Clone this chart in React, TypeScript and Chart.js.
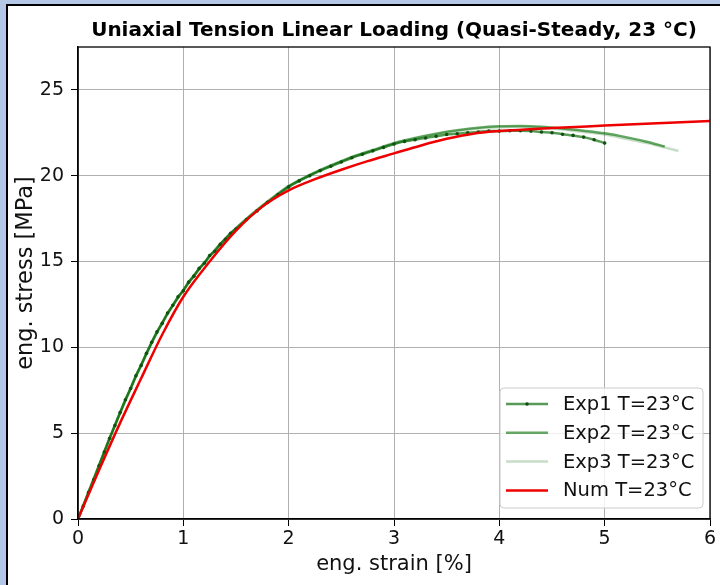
import React, { useEffect, useRef } from "react";
import { Chart, registerables } from "chart.js";

Chart.register(...registerables);

const TITLE = "Uniaxial Tension Linear Loading (Quasi-Steady, 23 °C)";
const X_LABEL = "eng. strain [%]";
const Y_LABEL = "eng. stress [MPa]";
const X_TICKS = [0, 1, 2, 3, 4, 5, 6];
const Y_TICKS = [0, 5, 10, 15, 20, 25];
const LABELS = ["Exp1 T=23°C", "Exp2 T=23°C", "Exp3 T=23°C", "Num T=23°C"];

const EXP1_STRAIN = [0, 0.05, 0.1, 0.15, 0.2, 0.25, 0.3, 0.35, 0.4, 0.45, 0.5, 0.55, 0.6, 0.65, 0.7, 0.75, 0.8, 0.85, 0.9, 0.95, 1.0, 1.05, 1.1, 1.15, 1.2, 1.25, 1.3, 1.35, 1.4, 1.45, 1.5, 1.6, 1.7, 1.8, 1.9, 2.0, 2.1, 2.2, 2.3, 2.4, 2.5, 2.6, 2.7, 2.8, 2.9, 3.0, 3.1, 3.2, 3.3, 3.4, 3.5, 3.6, 3.7, 3.8, 3.9, 4.0, 4.1, 4.2, 4.3, 4.4, 4.5, 4.6, 4.7, 4.8, 4.9, 5.0];
const EXP1_STRESS = [0, 0.75, 1.55, 2.3, 3.1, 3.9, 4.7, 5.45, 6.2, 6.95, 7.6, 8.35, 8.95, 9.65, 10.3, 10.9, 11.4, 12.0, 12.45, 12.95, 13.3, 13.8, 14.15, 14.6, 14.9, 15.35, 15.6, 16.0, 16.3, 16.65, 16.9, 17.45, 17.95, 18.45, 18.9, 19.35, 19.7, 20.0, 20.3, 20.55, 20.8, 21.05, 21.25, 21.45, 21.65, 21.85, 22.0, 22.1, 22.2, 22.3, 22.4, 22.45, 22.5, 22.55, 22.6, 22.6, 22.62, 22.62, 22.6, 22.55, 22.5, 22.42, 22.35, 22.25, 22.1, 21.9];

const EXP2_STRAIN = [0, 0.2, 0.4, 0.6, 0.8, 1.0, 1.2, 1.4, 1.6, 1.8, 2.0, 2.2, 2.4, 2.6, 2.8, 3.0, 3.2, 3.4, 3.6, 3.8, 4.0, 4.2, 4.4, 4.6, 4.8, 5.0, 5.2, 5.4, 5.57];
const EXP2_STRESS = [0, 3.15, 6.2, 9.0, 11.45, 13.35, 14.95, 16.35, 17.5, 18.5, 19.4, 20.05, 20.6, 21.1, 21.5, 21.9, 22.2, 22.45, 22.65, 22.8, 22.88, 22.9, 22.85, 22.75, 22.62, 22.47, 22.25, 21.98, 21.7];

const EXP3_STRAIN = [0, 0.2, 0.4, 0.6, 0.8, 1.0, 1.2, 1.4, 1.6, 1.8, 2.0, 2.2, 2.4, 2.6, 2.8, 3.0, 3.2, 3.4, 3.6, 3.8, 4.0, 4.2, 4.4, 4.6, 4.8, 5.0, 5.2, 5.4, 5.6, 5.7];
const EXP3_STRESS = [0, 3.1, 6.15, 8.95, 11.4, 13.3, 14.9, 16.3, 17.45, 18.45, 19.35, 20.0, 20.55, 21.05, 21.45, 21.85, 22.15, 22.4, 22.6, 22.75, 22.82, 22.85, 22.8, 22.7, 22.55, 22.4, 22.15, 21.9, 21.6, 21.45];

const NUM_STRAIN = [0, 0.2, 0.4, 0.6, 0.8, 1.0, 1.25, 1.5, 1.75, 2.0, 2.25, 2.5, 2.75, 3.0, 3.25, 3.5, 3.75, 4.0, 4.5, 5.0, 5.5, 6.0];
const NUM_STRESS = [0, 2.85, 5.6, 8.2, 10.75, 12.95, 15.0, 16.8, 18.2, 19.15, 19.8, 20.35, 20.85, 21.3, 21.75, 22.15, 22.45, 22.6, 22.78, 22.92, 23.06, 23.19];

const FONT = "'DejaVu Sans', sans-serif";

const toPoints = (xs: number[], ys: number[]) => xs.map((x, i) => ({ x, y: ys[i] }));

const spinesPlugin = {
  id: "spines",
  afterDatasetsDraw(chart: any) {
    const { ctx, chartArea: ca } = chart;
    ctx.save();
    ctx.strokeStyle = "#000";
    ctx.lineWidth = 1.3;
    ctx.strokeRect(ca.left, ca.top, ca.right - ca.left, ca.bottom - ca.top);
    ctx.restore();
  },
};

const yLabelPlugin = {
  id: "yLabel",
  afterDraw(chart: any) {
    const { ctx, chartArea: ca } = chart;
    ctx.save();
    ctx.translate(26, (ca.top + ca.bottom) / 2 - 10);
    ctx.rotate(-Math.PI / 2);
    ctx.font = `22.5px ${FONT}`;
    ctx.fillStyle = "#111";
    ctx.textAlign = "center";
    ctx.textBaseline = "middle";
    ctx.fillText(Y_LABEL, 0, 0);
    ctx.restore();
  },
};

const legendPlugin = {
  id: "mplLegend",
  afterDraw(chart: any) {
    const { ctx, chartArea: ca } = chart;
    const w = 203;
    const h = 120;
    const x0 = ca.right - 7 - w;
    const y0 = ca.bottom - 11 - h;
    ctx.save();
    ctx.beginPath();
    ctx.roundRect(x0, y0, w, h, 4);
    ctx.fillStyle = "rgba(255,255,255,0.8)";
    ctx.fill();
    ctx.strokeStyle = "#cccccc";
    ctx.lineWidth = 1;
    ctx.stroke();
    ctx.font = `19.5px ${FONT}`;
    ctx.textBaseline = "middle";
    ctx.textAlign = "left";
    chart.data.datasets.forEach((ds: any, i: number) => {
      const y = y0 + 16 + i * 28.8;
      ctx.beginPath();
      ctx.moveTo(x0 + 6, y);
      ctx.lineTo(x0 + 48, y);
      ctx.strokeStyle = ds.borderColor;
      ctx.lineWidth = ds.borderWidth;
      ctx.stroke();
      if (ds.pointRadius > 0) {
        ctx.beginPath();
        ctx.arc(x0 + 27, y, ds.pointRadius, 0, Math.PI * 2);
        ctx.fillStyle = ds.pointBackgroundColor;
        ctx.fill();
      }
      ctx.fillStyle = "#111";
      ctx.fillText(ds.label, x0 + 63, y + 1);
    });
    ctx.restore();
  },
};

export default function App() {
  const canvasRef = useRef<HTMLCanvasElement | null>(null);

  useEffect(() => {
    const canvas = canvasRef.current;
    if (!canvas) return;
    const chart = new Chart(canvas, {
      type: "line",
      data: {
        datasets: [
          {
            label: LABELS[0],
            data: toPoints(EXP1_STRAIN, EXP1_STRESS),
            borderColor: "rgba(0,100,0,0.65)",
            borderWidth: 2.5,
            pointRadius: 1.8,
            pointBackgroundColor: "#0f520f",
            pointBorderWidth: 0,
            cubicInterpolationMode: "monotone",
            order: 1,
          },
          {
            label: LABELS[1],
            data: toPoints(EXP2_STRAIN, EXP2_STRESS),
            borderColor: "rgba(0,110,0,0.6)",
            borderWidth: 2.5,
            pointRadius: 0,
            cubicInterpolationMode: "monotone",
            order: 2,
          },
          {
            label: LABELS[2],
            data: toPoints(EXP3_STRAIN, EXP3_STRESS),
            borderColor: "rgba(0,100,0,0.22)",
            borderWidth: 2.5,
            pointRadius: 0,
            cubicInterpolationMode: "monotone",
            order: 3,
          },
          {
            label: LABELS[3],
            data: toPoints(NUM_STRAIN, NUM_STRESS),
            borderColor: "#ee0000",
            borderWidth: 2.5,
            pointRadius: 0,
            cubicInterpolationMode: "monotone",
            order: 0,
          },
        ] as any,
      },
      options: {
        responsive: false,
        animation: false,
        devicePixelRatio: 1,
        layout: { padding: { left: 0, right: 10, top: 0, bottom: 0 } },
        plugins: {
          legend: { display: false },
          tooltip: { enabled: false },
          title: {
            display: true,
            text: TITLE,
            fullSize: false,
            color: "#000",
            font: { family: FONT, size: 20, weight: "bold" },
            padding: { top: 19, bottom: 4 },
          },
        },
        scales: {
          x: {
            type: "linear",
            min: 0,
            max: 6,
            afterBuildTicks: (s: any) => {
              s.ticks = X_TICKS.map((v) => ({ value: v }));
            },
            afterFit: (s: any) => {
              s.height = 66;
            },
            ticks: {
              color: "#111",
              font: { family: FONT, size: 19 },
              padding: 2,
              autoSkip: false,
              maxRotation: 0,
            },
            grid: {
              color: "#b0b0b0",
              lineWidth: 1,
              tickColor: "#000",
              tickLength: 7,
              tickWidth: 1,
            },
            border: { color: "#000", width: 1.3 },
            title: {
              display: true,
              text: X_LABEL,
              color: "#111",
              font: { family: FONT, size: 21 },
              padding: { top: 0, bottom: 8 },
            },
          },
          y: {
            type: "linear",
            min: 0,
            max: 27.5,
            afterBuildTicks: (s: any) => {
              s.ticks = Y_TICKS.map((v) => ({ value: v }));
            },
            afterFit: (s: any) => {
              s.width = 78;
            },
            ticks: {
              color: "#111",
              font: { family: FONT, size: 19 },
              padding: 7,
            },
            grid: {
              color: "#b0b0b0",
              lineWidth: 1,
              tickColor: "#000",
              tickLength: 7,
              tickWidth: 1,
            },
            border: { color: "#000", width: 1.3 },
            title: { display: false },
          },
        },
      } as any,
      plugins: [spinesPlugin, yLabelPlugin, legendPlugin],
    });
    return () => chart.destroy();
  }, []);

  return (
    <div
      style={{
        position: "fixed",
        left: 0,
        top: 0,
        width: 720,
        height: 585,
        background: "#b4c7e7",
        overflow: "hidden",
      }}
    >
      <div
        style={{
          position: "absolute",
          left: 6,
          top: 4,
          right: 0,
          bottom: 0,
          background: "#fff",
          borderTop: "2px solid #000",
          borderLeft: "2px solid #000",
        }}
      />
      <canvas
        ref={canvasRef}
        width={720}
        height={585}
        style={{ position: "absolute", left: 0, top: 0, width: 720, height: 585 }}
      />
    </div>
  );
}
